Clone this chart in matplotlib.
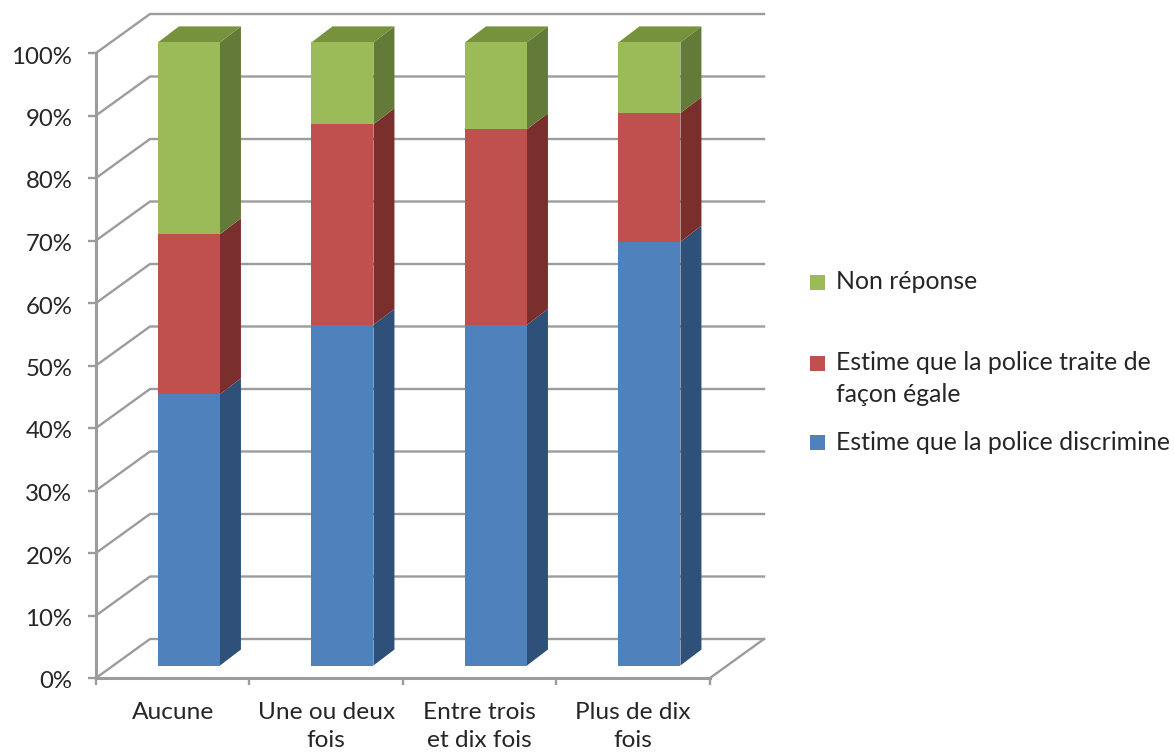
# -*- coding: UTF-8 -*-
from matplotlib import pyplot as plt
from matplotlib.patches import Rectangle
from matplotlib.transforms import ScaledTranslation

categories = ["Aucune", "Une ou deux\nfois", "Entre trois\net dix fois", "Plus de dix\nfois"]
discrimine = [43.4, 54.5, 54.5, 67.8]
egale = [25.6, 32.1, 31.3, 20.6]
non_reponse = [30.7, 13.1, 13.9, 11.3]
y_ticks = [0, 10, 20, 30, 40, 50, 60, 70, 80, 90, 100]

series = [
    (discrimine, "#4f81bd", "#2f5179", "#3a6190"),
    (egale, "#c0504d", "#7a2f2d", "#943c3a"),
    (non_reponse, "#9bbb59", "#647a38", "#76923c"),
]
legend_rows = [
    ("#9bbb59", "Non réponse", 282),
    ("#c0504d", "Estime que la police traite de\nfaçon égale", 363),
    ("#4f81bd", "Estime que la police discrimine", 443),
]

W, H = 1174, 754
GRID = "#9c9c9c"
plt.rcParams["font.family"] = ["Lato", "DejaVu Sans"]

fig = plt.figure(figsize=(W / 100, H / 100), dpi=100)
ax = fig.add_axes([96 / W, (H - 678) / H, 614 / W, 625 / H])
ax.set_xlim(0, 4)
ax.set_ylim(0, 100)

# depth of the fake 3d box, in data units
wall_dx = 54 / (614 / 4)
wall_dy = 39 / 6.25
# bars sit inside the box
bar_w = 62 / (614 / 4)
bar_front_x = 0.30
bar_front_y = 0.32
depth_dx = 21 / (614 / 4)
depth_dy = 16 / 6.25

# walls and floor
for v in y_ticks:
    ax.plot([0, wall_dx, 4 + wall_dx], [v, v + wall_dy, v + wall_dy],
            color=GRID, lw=1.7, clip_on=False, zorder=1)
ax.plot([4, 4 + wall_dx], [0, wall_dy], color=GRID, lw=1.7, clip_on=False, zorder=1)

# stacked bars: front, side, then top for the last one
for i in range(len(categories)):
    left = i + 0.5 - bar_w / 2 + wall_dx * bar_front_x
    right = left + bar_w
    bottom = wall_dy * bar_front_y
    for values, front, side, top in series:
        h = values[i]
        ax.bar(left, h, width=bar_w, bottom=bottom, align="edge", color=front,
               clip_on=False, zorder=3)
        ax.fill([right, right + depth_dx, right + depth_dx, right],
                [bottom, bottom + depth_dy, bottom + h + depth_dy, bottom + h],
                color=side, lw=0, clip_on=False, zorder=2)
        bottom += h
    ax.fill([left, left + depth_dx, right + depth_dx, right],
            [bottom, bottom + depth_dy, bottom + depth_dy, bottom],
            color=series[-1][3], lw=0, clip_on=False, zorder=2)

for name in ["top", "right"]:
    ax.spines[name].set_visible(False)
for name in ["left", "bottom"]:
    ax.spines[name].set_color(GRID)
    ax.spines[name].set_linewidth(2.2)
    ax.spines[name].set_zorder(4)

ax.set_yticks(y_ticks)
ax.set_yticklabels([f"{v}%" for v in y_ticks], fontsize=17.3, color="#262626")
ax.tick_params(axis="y", length=6, width=1.7, color=GRID, pad=11)
# labels sit a little under their ticks in the reference
nudge = ScaledTranslation(0, -2 / 100, fig.dpi_scale_trans)
for label in ax.get_yticklabels():
    label.set_transform(label.get_transform() + nudge)
ax.set_xticks(range(len(categories) + 1))
ax.set_xticklabels([""] * (len(categories) + 1))
ax.tick_params(axis="x", which="major", length=5, width=1.7, color=GRID)
ax.set_xticks([i + 0.5 for i in range(len(categories))], minor=True)
ax.set_xticklabels(categories, minor=True, fontsize=17.6, color="#262626", linespacing=1.45)
ax.tick_params(axis="x", which="minor", length=0, pad=17)

# legend, placed by hand since the rows are unevenly spaced
for color, label, y in legend_rows:
    fig.add_artist(Rectangle((810 / W, 1 - (y + 7.5) / H), 15 / W, 15 / H,
                             transform=fig.transFigure, color=color, lw=0))
    fig.text(836 / W, 1 - (y - 12) / H, label, fontsize=17.9, color="#262626",
             va="top", ha="left", linespacing=1.5)

fig.savefig("out.png", dpi=100)
